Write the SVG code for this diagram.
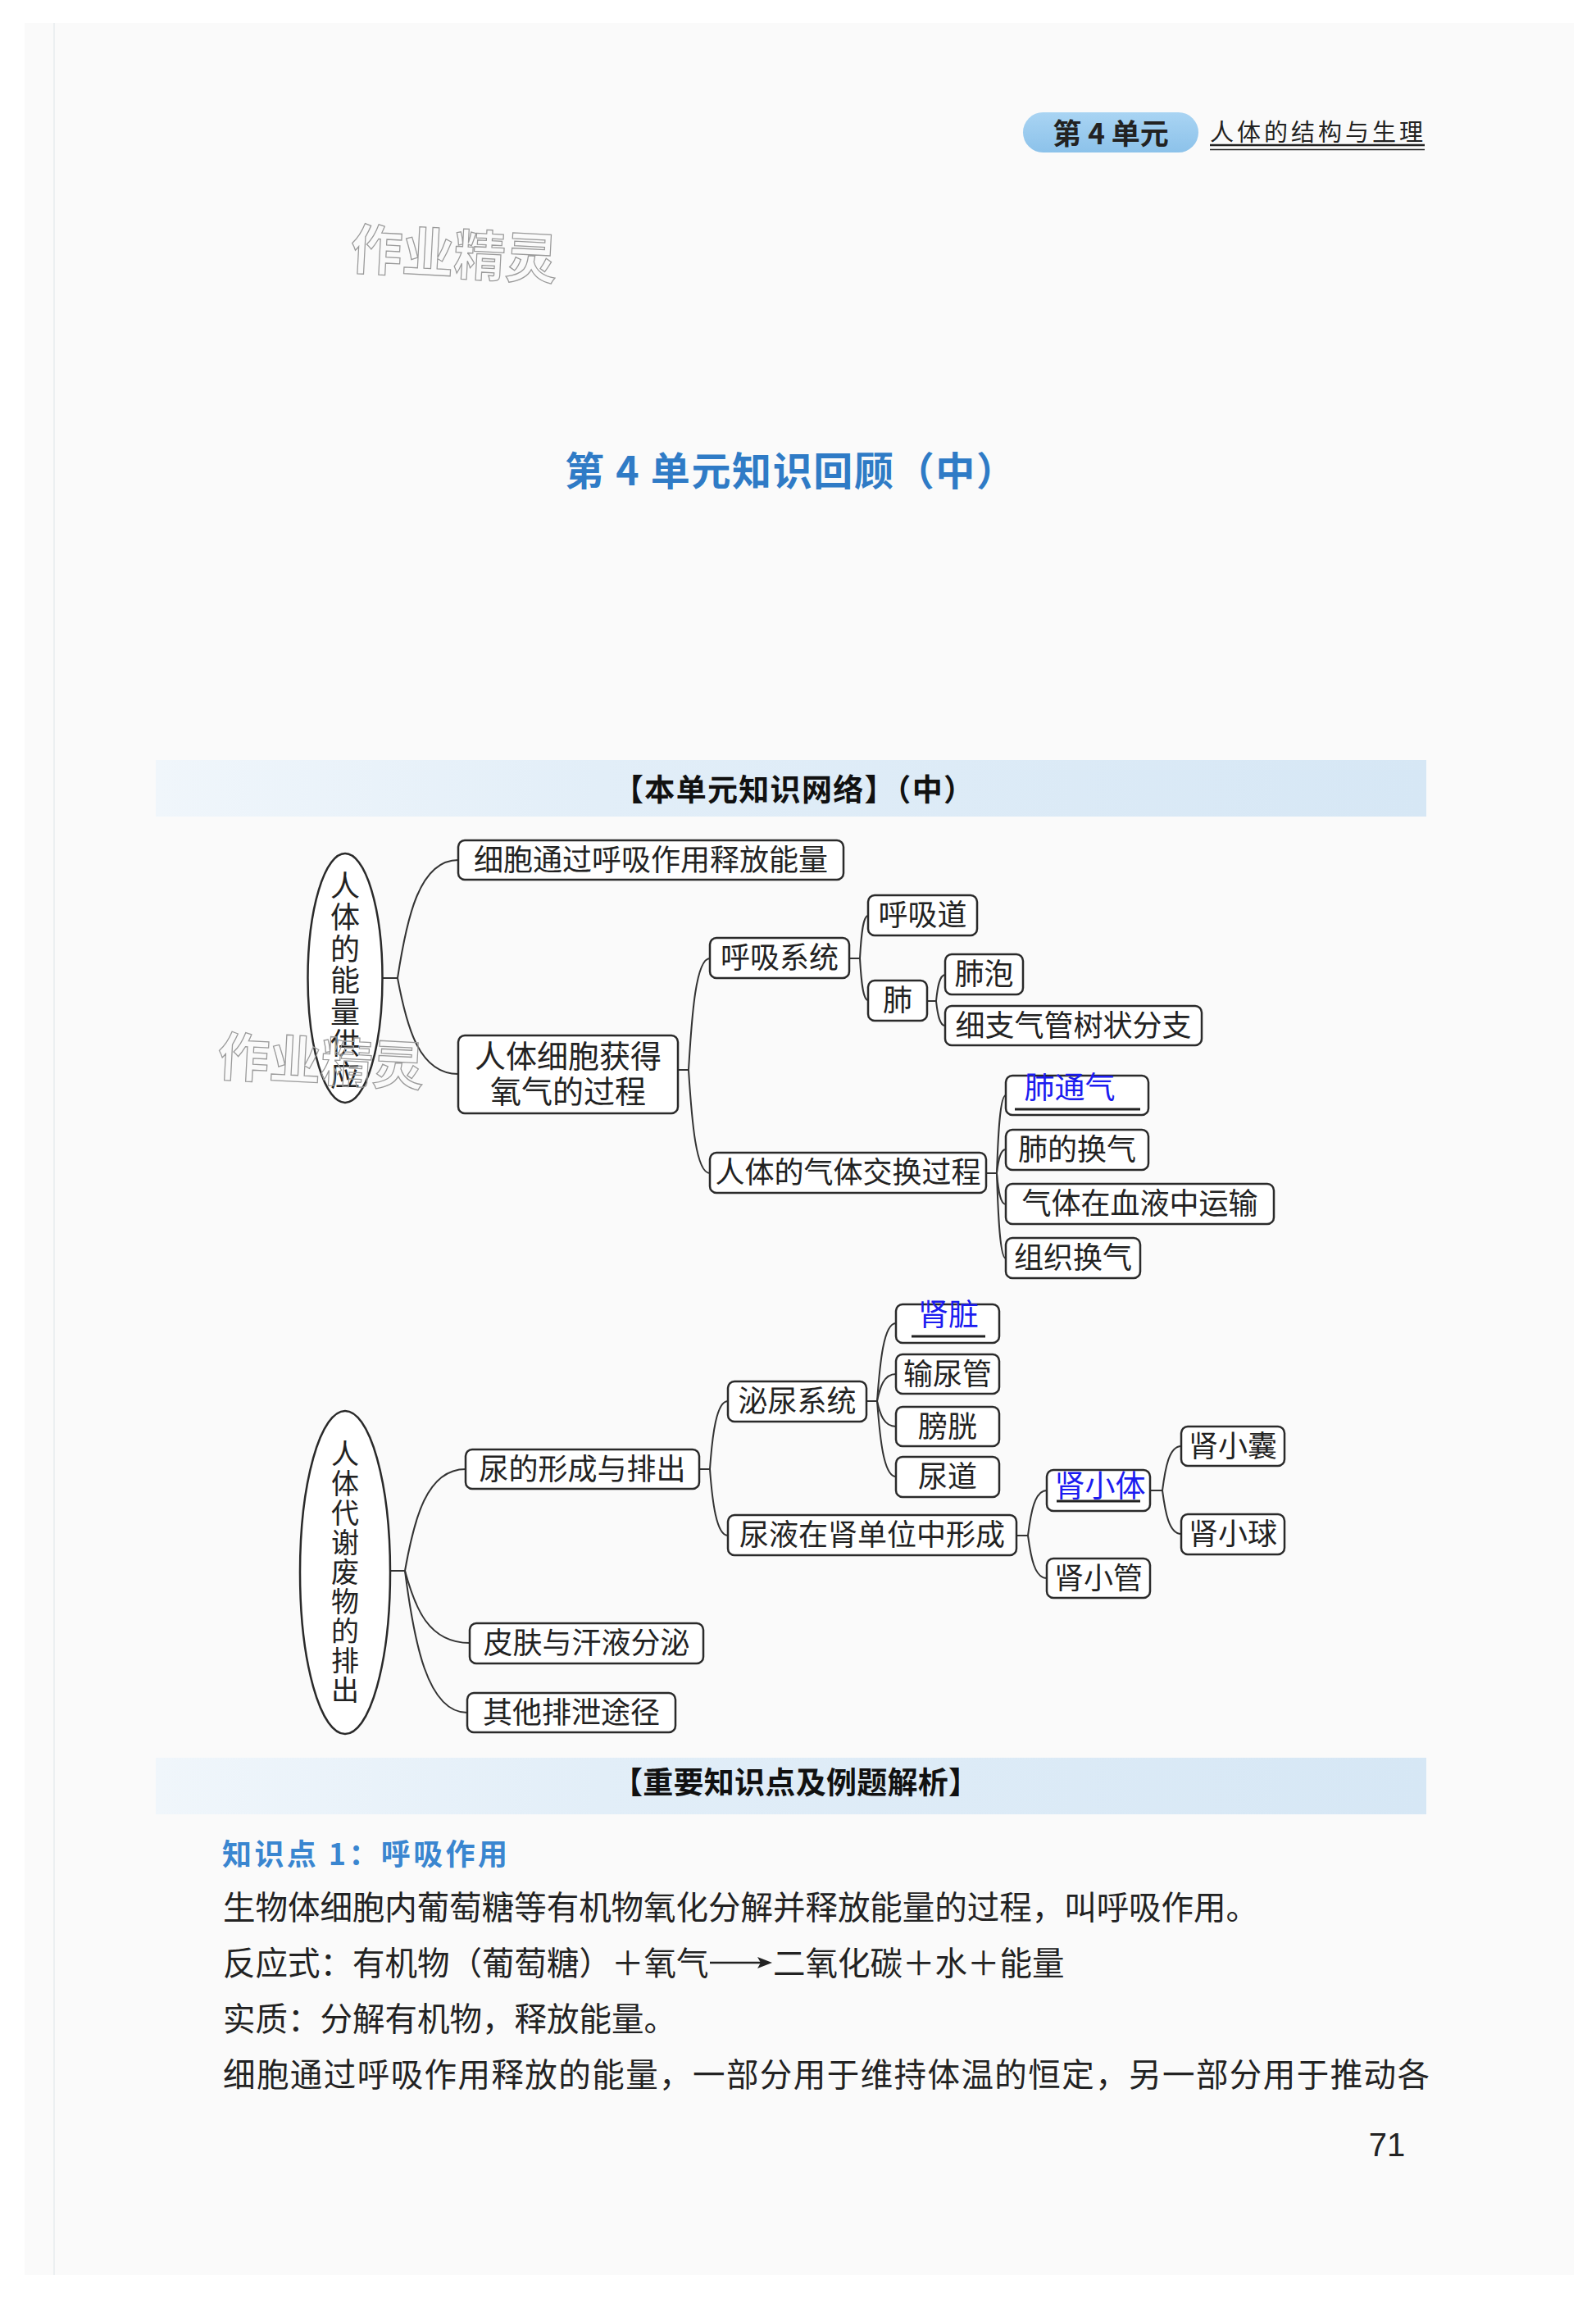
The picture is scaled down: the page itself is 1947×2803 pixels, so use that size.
<svg xmlns="http://www.w3.org/2000/svg" width="1947" height="2803" viewBox="0 0 1947 2803">
<defs>
<linearGradient id="band" x1="0" y1="0" x2="1" y2="0">
<stop offset="0" stop-color="#f0f6fb"/>
<stop offset="0.35" stop-color="#e2eef8"/>
<stop offset="1" stop-color="#d6e7f5"/>
</linearGradient>
<linearGradient id="pill" x1="0" y1="0" x2="0" y2="1">
<stop offset="0" stop-color="#a9d4f3"/>
<stop offset="1" stop-color="#8cc2ea"/>
</linearGradient>
<style>
.bx{fill:#fff;stroke:#2a2a2a;stroke-width:2.5}
.t{font-family:"Noto Sans CJK SC","Noto Sans CJK TC",sans-serif;font-size:36px;fill:#222;text-anchor:middle}
.t2{font-family:"Liberation Sans","Noto Sans CJK SC",sans-serif;font-size:38px;fill:#222;text-anchor:middle}
.v{font-family:"Noto Sans CJK SC","Noto Sans CJK TC",sans-serif;fill:#222;text-anchor:middle;writing-mode:vertical-rl;text-orientation:upright}
.b{font-family:"Noto Sans CJK SC",sans-serif;font-size:37px;fill:#1c1cf0;text-anchor:middle}
.ul{stroke:#222;stroke-width:3}
.c{fill:none;stroke:#333;stroke-width:2}
.body{font-family:"Noto Sans CJK SC",sans-serif;font-size:39.5px;fill:#222}
.wm{font-family:"Noto Sans CJK SC",sans-serif;font-weight:bold;fill:none;stroke:#9a9a9a;stroke-width:1.3}
.hd{font-family:"Noto Sans CJK SC",sans-serif;font-size:37px;font-weight:bold;fill:#111}
</style>
</defs>
<rect x="0" y="0" width="1947" height="2803" fill="#ffffff"/>
<rect x="30" y="28" width="1890" height="2747" fill="#fafafa"/>
<line x1="66" y1="28" x2="66" y2="2775" stroke="#eceff1" stroke-width="2"/>

<!-- header -->
<g id="header">
<rect x="1248" y="137" width="214" height="49" rx="24.5" fill="url(#pill)"/>
<text x="1355" y="176" font-family="Noto Sans CJK SC,sans-serif" font-size="35" font-weight="bold" fill="#222" text-anchor="middle">第 4 单元</text>
<text x="1476" y="172" font-family="Noto Sans CJK SC,sans-serif" font-size="29" fill="#222" textLength="260" lengthAdjust="spacing">人体的结构与生理</text>
<line x1="1476" y1="177" x2="1738" y2="177" stroke="#222" stroke-width="2.5"/>
<line x1="1476" y1="182.5" x2="1738" y2="182.5" stroke="#222" stroke-width="1.5"/>
</g>

<text class="wm" x="428" y="334" font-size="66" textLength="252" lengthAdjust="spacingAndGlyphs" transform="rotate(3 550 305)">作业精灵</text>

<text x="689" y="592" font-family="Noto Sans CJK SC,sans-serif" font-size="48" font-weight="bold" fill="#2f7bc6" textLength="550" lengthAdjust="spacing">第 4 单元知识回顾（中）</text>

<!-- banner 1 -->
<rect x="190" y="927" width="1550" height="69" fill="url(#band)"/>
<text class="hd" x="748" y="977" textLength="440" lengthAdjust="spacing">【本单元知识网络】（中）</text>

<!-- connectors -->
<g id="connectors">
<path class="c" d="M466 1193 H485"/>
<path class="c" d="M485 1193 C496 1121 511 1049 559 1049"/>
<path class="c" d="M485 1193 C496 1252 511 1310 559 1310"/>
<path class="c" d="M827 1305 H840"/>
<path class="c" d="M840 1305 C844 1237 849 1169 866 1169"/>
<path class="c" d="M840 1305 C844 1368 849 1431 866 1431"/>
<path class="c" d="M1036 1169 H1049"/>
<path class="c" d="M1049 1169 C1050.5 1143 1052.5 1117 1059 1117"/>
<path class="c" d="M1049 1169 C1050.5 1194.5 1052.5 1220 1059 1220"/>
<path class="c" d="M1131 1221 H1142"/>
<path class="c" d="M1142 1221 C1143.6 1205 1146 1189 1153 1189"/>
<path class="c" d="M1142 1221 C1143.6 1236 1146 1251 1153 1251"/>
<path class="c" d="M1203 1431 H1216"/>
<path class="c" d="M1216 1431 C1217.6 1383.5 1220 1336 1227 1336"/>
<path class="c" d="M1216 1431 C1217.6 1416.5 1220 1402 1227 1402"/>
<path class="c" d="M1216 1431 C1217.6 1450 1220 1469 1227 1469"/>
<path class="c" d="M1216 1431 C1217.6 1483 1220 1535 1227 1535"/>

<path class="c" d="M476 1916 H494"/>
<path class="c" d="M494 1916 C505 1854 520 1792 568 1792"/>
<path class="c" d="M494 1916 C506 1960 522 2004 573 2004"/>
<path class="c" d="M494 1916 C505 2002 521 2089 570 2089"/>
<path class="c" d="M853 1792 H866"/>
<path class="c" d="M866 1792 C869 1750 874 1709 888 1709"/>
<path class="c" d="M866 1792 C869 1832 874 1873 888 1873"/>
<path class="c" d="M1057 1709 H1070"/>
<path class="c" d="M1070 1709 C1073.5 1661.5 1078 1614 1093 1614"/>
<path class="c" d="M1070 1709 C1073.5 1692.5 1078 1676 1093 1676"/>
<path class="c" d="M1070 1709 C1073.5 1724.5 1078 1740 1093 1740"/>
<path class="c" d="M1070 1709 C1073.5 1755 1078 1801 1093 1801"/>
<path class="c" d="M1240 1873 H1254"/>
<path class="c" d="M1254 1873 C1257.5 1845.5 1262 1818 1277 1818"/>
<path class="c" d="M1254 1873 C1257.5 1899 1262 1925 1277 1925"/>
<path class="c" d="M1403 1818 H1418"/>
<path class="c" d="M1418 1818 C1421.5 1791 1426 1764 1441 1764"/>
<path class="c" d="M1418 1818 C1421.5 1844.5 1426 1871 1441 1871"/>
</g>

<!-- map 1 -->
<g id="n-energy">
<ellipse cx="421" cy="1193" rx="45.5" ry="152" fill="#fff" stroke="#2a2a2a" stroke-width="2.5"/>
<text class="v" x="421" y="1197" font-size="36" letter-spacing="2.5">人体的能量供应</text>
</g>
<g id="n-release"><rect class="bx" x="559" y="1025" width="470" height="48" rx="8"/><text class="t" x="794" y="1062">细胞通过呼吸作用释放能量</text></g>
<g id="n-oxygen"><rect class="bx" x="559" y="1263" width="268" height="95" rx="8"/><text class="t2" x="693" y="1302">人体细胞获得</text><text class="t2" x="693" y="1345">氧气的过程</text></g>
<g id="n-ressys"><rect class="bx" x="866" y="1144" width="170" height="49" rx="8"/><text class="t" x="951" y="1181">呼吸系统</text></g>
<g id="n-gasex"><rect class="bx" x="866" y="1406" width="337" height="49" rx="8"/><text class="t" x="1034.5" y="1443">人体的气体交换过程</text></g>
<g id="n-airway"><rect class="bx" x="1059" y="1092" width="133" height="49" rx="8"/><text class="t" x="1125.5" y="1129">呼吸道</text></g>
<g id="n-lung"><rect class="bx" x="1059" y="1196" width="72" height="49" rx="8"/><text class="t" x="1095" y="1233">肺</text></g>
<g id="n-alv"><rect class="bx" x="1153" y="1164" width="95" height="49" rx="8"/><text class="t" x="1200.5" y="1201">肺泡</text></g>
<g id="n-bronch"><rect class="bx" x="1153" y="1227" width="313" height="48" rx="8"/><text class="t" x="1309.5" y="1264">细支气管树状分支</text></g>
<g id="n-vent"><rect class="bx" x="1227" y="1312" width="174" height="48" rx="8"/><text class="b" x="1305" y="1340">肺通气</text><line class="ul" x1="1238" y1="1353" x2="1391" y2="1353"/></g>
<g id="n-lungex"><rect class="bx" x="1227" y="1378" width="174" height="49" rx="8"/><text class="t" x="1314" y="1415">肺的换气</text></g>
<g id="n-blood"><rect class="bx" x="1227" y="1444" width="327" height="49" rx="8"/><text class="t" x="1390.5" y="1481">气体在血液中运输</text></g>
<g id="n-tissue"><rect class="bx" x="1227" y="1510" width="164" height="49" rx="8"/><text class="t" x="1309" y="1547">组织换气</text></g>

<text class="wm" x="266" y="1318" font-size="64" textLength="252" lengthAdjust="spacingAndGlyphs" transform="rotate(3 390 1288)">作业精灵</text>

<!-- map 2 -->
<g id="n-excrete">
<ellipse cx="421" cy="1918" rx="55" ry="197" fill="#fff" stroke="#2a2a2a" stroke-width="2.5"/>
<text class="v" x="421" y="1918" font-size="34" letter-spacing="2">人体代谢废物的排出</text>
</g>
<g id="n-urine"><rect class="bx" x="568" y="1768" width="285" height="48" rx="8"/><text class="t" x="710.5" y="1805">尿的形成与排出</text></g>
<g id="n-skin"><rect class="bx" x="573" y="1980" width="285" height="49" rx="8"/><text class="t" x="715.5" y="2017">皮肤与汗液分泌</text></g>
<g id="n-other"><rect class="bx" x="570" y="2065" width="254" height="48" rx="8"/><text class="t" x="697" y="2102">其他排泄途径</text></g>
<g id="n-urisys"><rect class="bx" x="888" y="1685" width="169" height="49" rx="8"/><text class="t" x="972.5" y="1722">泌尿系统</text></g>
<g id="n-nephron"><rect class="bx" x="888" y="1848" width="352" height="49" rx="8"/><text class="t" x="1064" y="1885">尿液在肾单位中形成</text></g>
<g id="n-kidney"><rect class="bx" x="1093" y="1591" width="126" height="47" rx="8"/><text class="b" x="1157" y="1617">肾脏</text><line class="ul" x1="1112" y1="1630" x2="1202" y2="1630"/></g>
<g id="n-ureter"><rect class="bx" x="1093" y="1652" width="126" height="48" rx="8"/><text class="t" x="1156" y="1689">输尿管</text></g>
<g id="n-bladder"><rect class="bx" x="1093" y="1716" width="126" height="48" rx="8"/><text class="t" x="1156" y="1753">膀胱</text></g>
<g id="n-urethra"><rect class="bx" x="1093" y="1777" width="126" height="49" rx="8"/><text class="t" x="1156" y="1814">尿道</text></g>
<g id="n-corpuscle"><rect class="bx" x="1277" y="1793" width="126" height="50" rx="8"/><text class="b" x="1342" y="1826">肾小体</text><line class="ul" x1="1289" y1="1831" x2="1391" y2="1831"/></g>
<g id="n-tubule"><rect class="bx" x="1277" y="1901" width="126" height="48" rx="8"/><text class="t" x="1340" y="1938">肾小管</text></g>
<g id="n-capsule"><rect class="bx" x="1441" y="1740" width="126" height="48" rx="8"/><text class="t" x="1504" y="1777">肾小囊</text></g>
<g id="n-glom"><rect class="bx" x="1441" y="1847" width="126" height="49" rx="8"/><text class="t" x="1504" y="1884">肾小球</text></g>

<!-- banner 2 -->
<rect x="190" y="2144" width="1550" height="69" fill="url(#band)"/>
<text class="hd" x="747" y="2188" textLength="447" lengthAdjust="spacing">【重要知识点及例题解析】</text>

<text x="271" y="2275" font-family="Noto Sans CJK SC,sans-serif" font-size="36" font-weight="bold" fill="#3a86d0" textLength="348" lengthAdjust="spacing">知识点 1：呼吸作用</text>
<text class="body" x="272" y="2341" textLength="1263" lengthAdjust="spacing">生物体细胞内葡萄糖等有机物氧化分解并释放能量的过程，叫呼吸作用。</text>
<text class="body" x="272" y="2409">反应式：有机物（葡萄糖）＋氧气</text>
<line x1="866" y1="2394" x2="928" y2="2394" stroke="#222" stroke-width="2.5"/>
<polygon points="942,2394 924,2387 928,2394 924,2401" fill="#222"/>
<text class="body" x="943" y="2409">二氧化碳＋水＋能量</text>
<text class="body" x="272" y="2477">实质：分解有机物，释放能量。</text>
<text class="body" x="272" y="2545" textLength="1472" lengthAdjust="spacing">细胞通过呼吸作用释放的能量，一部分用于维持体温的恒定，另一部分用于推动各</text>

<text x="1692" y="2630" font-family="Liberation Sans,Arial,sans-serif" font-size="40" fill="#222" text-anchor="middle">71</text>
</svg>
